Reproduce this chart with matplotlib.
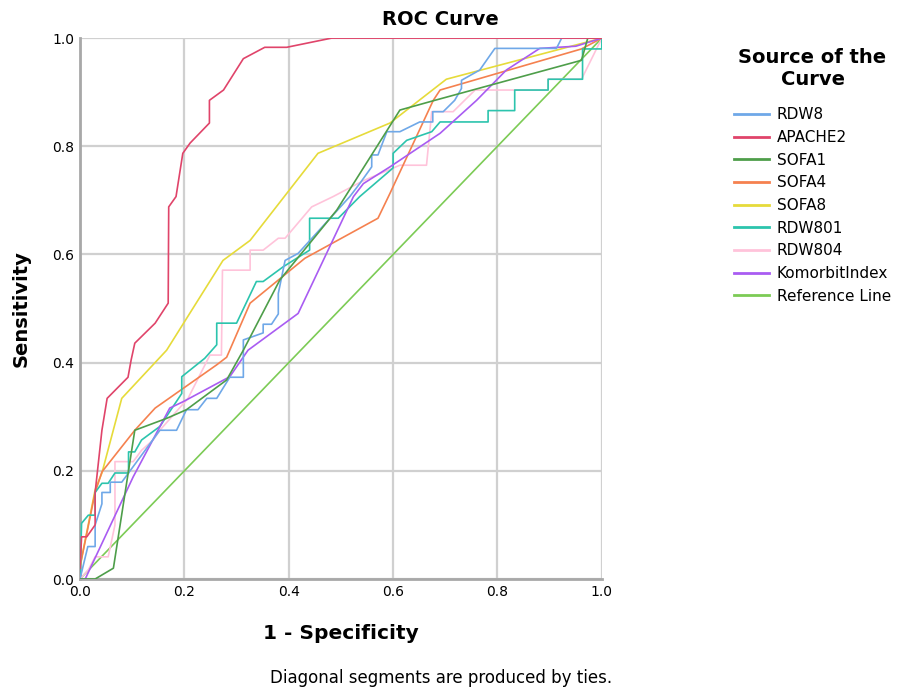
import matplotlib
matplotlib.use("Agg")
import matplotlib.pyplot as plt

# ROC points (1 - specificity, sensitivity)
rdw8_x = [0, 0.015, 0.015, 0.029, 0.029, 0.042, 0.042, 0.058, 0.058, 0.08, 0.153, 0.185, 0.204, 0.226, 0.243, 0.262, 0.287, 0.313, 0.313, 0.351, 0.351, 0.367, 0.38, 0.38, 0.393, 0.418, 0.517, 0.536, 0.559, 0.559, 0.571, 0.588, 0.613, 0.651, 0.676, 0.676, 0.696, 0.718, 0.731, 0.731, 0.766, 0.795, 0.913, 0.923, 1.0]
rdw8_y = [0, 0.06, 0.06, 0.06, 0.10, 0.139, 0.16, 0.16, 0.179, 0.179, 0.275, 0.275, 0.313, 0.313, 0.334, 0.334, 0.373, 0.373, 0.442, 0.455, 0.471, 0.471, 0.49, 0.528, 0.589, 0.602, 0.707, 0.731, 0.762, 0.784, 0.784, 0.827, 0.827, 0.845, 0.845, 0.864, 0.864, 0.885, 0.907, 0.922, 0.941, 0.981, 0.981, 1.0, 1.0]

apache2_x = [0, 0.003, 0.013, 0.029, 0.029, 0.042, 0.052, 0.092, 0.098, 0.105, 0.144, 0.169, 0.17, 0.184, 0.197, 0.211, 0.248, 0.248, 0.275, 0.313, 0.354, 0.396, 0.482, 1.0]
apache2_y = [0.02, 0.078, 0.078, 0.10, 0.16, 0.275, 0.334, 0.373, 0.405, 0.436, 0.473, 0.51, 0.688, 0.707, 0.787, 0.806, 0.843, 0.885, 0.904, 0.962, 0.983, 0.983, 1.0, 1.0]

sofa1_x = [0, 0.029, 0.064, 0.105, 0.166, 0.204, 0.281, 0.313, 0.383, 0.492, 0.613, 0.68, 0.961, 0.973, 1.0]
sofa1_y = [0, 0, 0.02, 0.275, 0.297, 0.313, 0.368, 0.423, 0.553, 0.682, 0.867, 0.885, 0.959, 1.0, 1.0]

sofa4_x = [0, 0.029, 0.042, 0.105, 0.144, 0.262, 0.281, 0.326, 0.431, 0.571, 0.594, 0.677, 0.69, 0.961, 1.0]
sofa4_y = [0.023, 0.16, 0.198, 0.275, 0.316, 0.396, 0.41, 0.51, 0.593, 0.667, 0.713, 0.885, 0.904, 0.98, 1.0]

sofa8_x = [0, 0.029, 0.042, 0.08, 0.166, 0.274, 0.326, 0.456, 0.594, 0.702, 1.0]
sofa8_y = [0.023, 0.165, 0.196, 0.334, 0.423, 0.589, 0.626, 0.787, 0.843, 0.924, 1.0]

rdw801_x = [0, 0.003, 0.016, 0.029, 0.029, 0.042, 0.054, 0.067, 0.093, 0.093, 0.105, 0.118, 0.153, 0.195, 0.195, 0.239, 0.262, 0.262, 0.3, 0.338, 0.351, 0.389, 0.44, 0.44, 0.457, 0.495, 0.536, 0.6, 0.6, 0.626, 0.674, 0.69, 0.782, 0.782, 0.833, 0.833, 0.897, 0.897, 0.963, 0.963, 1.0, 1.0]
rdw801_y = [0, 0.103, 0.118, 0.118, 0.16, 0.177, 0.177, 0.196, 0.196, 0.235, 0.235, 0.257, 0.282, 0.343, 0.374, 0.408, 0.433, 0.473, 0.473, 0.55, 0.55, 0.577, 0.608, 0.667, 0.667, 0.667, 0.707, 0.76, 0.787, 0.811, 0.827, 0.845, 0.845, 0.866, 0.866, 0.904, 0.904, 0.924, 0.924, 0.98, 0.98, 1.0]

rdw804_x = [0, 0.016, 0.029, 0.054, 0.067, 0.067, 0.102, 0.118, 0.14, 0.153, 0.207, 0.249, 0.271, 0.273, 0.326, 0.326, 0.351, 0.38, 0.393, 0.444, 0.485, 0.542, 0.613, 0.664, 0.674, 0.715, 0.757, 0.805, 0.897, 0.897, 0.961, 1.0]
rdw804_y = [0, 0.017, 0.041, 0.041, 0.10, 0.217, 0.217, 0.238, 0.257, 0.275, 0.334, 0.414, 0.414, 0.571, 0.571, 0.608, 0.608, 0.63, 0.63, 0.688, 0.707, 0.736, 0.765, 0.765, 0.864, 0.864, 0.904, 0.904, 0.904, 0.924, 0.924, 1.0]

komorbit_x = [0, 0.01, 0.102, 0.172, 0.198, 0.287, 0.322, 0.418, 0.524, 0.543, 0.594, 0.69, 0.76, 0.817, 0.881, 0.95, 1.0]
komorbit_y = [0, 0, 0.189, 0.316, 0.328, 0.374, 0.423, 0.491, 0.707, 0.731, 0.762, 0.824, 0.885, 0.941, 0.981, 0.985, 1.0]

ref_x = [0, 1]
ref_y = [0, 1]

names = ["RDW8", "APACHE2", "SOFA1", "SOFA4", "SOFA8", "RDW801", "RDW804", "KomorbitIndex", "Reference Line"]
colors = ["#6fa8e8", "#e0446a", "#4e9e4a", "#f5814f", "#e6db3a", "#2cc4ad", "#ffc3da", "#a95cf2", "#7ccb55"]
curves = [(rdw8_x, rdw8_y), (apache2_x, apache2_y), (sofa1_x, sofa1_y), (sofa4_x, sofa4_y),
          (sofa8_x, sofa8_y), (rdw801_x, rdw801_y), (rdw804_x, rdw804_y),
          (komorbit_x, komorbit_y), (ref_x, ref_y)]

fig = plt.figure(figsize=(9.06, 6.93), dpi=100)
ax = fig.add_axes([0.0883, 0.1645, 0.576, 0.7805])

# draw reference line first so other curves sit above it
for i in [8, 6, 4, 3, 5, 7, 0, 2, 1]:
    x, y = curves[i]
    ax.plot(x, y, color=colors[i], lw=1.2, label=names[i], zorder=3)

ax.set_xlim(0, 1)
ax.set_ylim(0, 1)
ticks = [0, 0.2, 0.4, 0.6, 0.8, 1.0]
ax.set_xticks(ticks)
ax.set_yticks(ticks)
ax.set_xticklabels(["0.0", "0.2", "0.4", "0.6", "0.8", "1.0"], fontsize=10)
ax.set_yticklabels(["0.0", "0.2", "0.4", "0.6", "0.8", "1.0"], fontsize=10)
ax.tick_params(length=0, pad=4)
ax.grid(True, color="#d0d0d0", lw=1.6, zorder=0)
ax.set_axisbelow(True)
for s in ["top", "right"]:
    ax.spines[s].set_visible(False)
for s in ["left", "bottom"]:
    ax.spines[s].set_color("#a8a8a8")
    ax.spines[s].set_linewidth(2)

fig.text(0.486, 0.964, "ROC Curve", ha="center", va="baseline", fontsize=14, fontweight="bold")
ax.set_xlabel("1 - Specificity", fontsize=14.5, fontweight="bold", labelpad=18)
ax.set_ylabel("Sensitivity", fontsize=14, fontweight="bold", labelpad=16)

fig.text(0.487, 0.022, "Diagonal segments are produced by ties.", ha="center", va="center", fontsize=12)

handles, labels = ax.get_legend_handles_labels()
order = [labels.index(n) for n in names]
leg = fig.legend([handles[k] for k in order], [labels[k] for k in order],
                 loc="upper left", bbox_to_anchor=(0.795, 0.95), frameon=False,
                 title="Source of the\nCurve", fontsize=11, handlelength=2.3,
                 labelspacing=0.5, handletextpad=0.5,
                 title_fontproperties={"size": 14, "weight": "bold"})
leg._legend_box.align = "center"
leg._legend_box.sep = 13
leg.get_title().set_multialignment("center")
for line in leg.get_lines():
    line.set_linewidth(2)

fig.savefig("out.png", dpi=100)
